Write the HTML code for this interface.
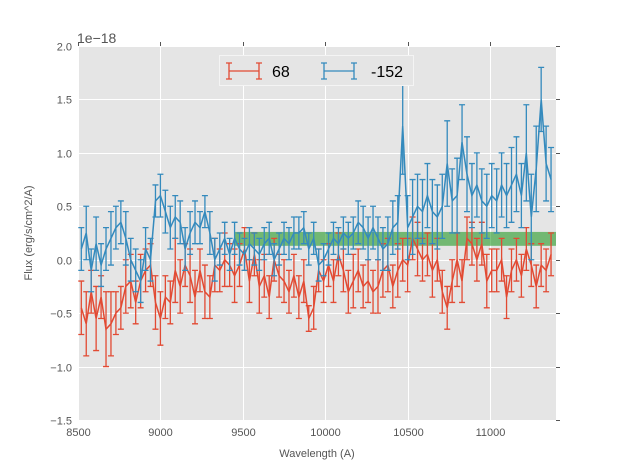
<!DOCTYPE html>
<html><head><meta charset="utf-8"><style>
body{margin:0;background:#fff;}
svg{display:block;font-family:"Liberation Sans","DejaVu Sans",sans-serif;}
</style></head><body>
<svg id="chart" width="617" height="467"></svg>
<script>
const xTicks=[8500,9000,9500,10000,10500,11000];
const yTicks=[-1.5,-1.0,-0.5,0.0,0.5,1.0,1.5,2.0];
const yTickLabels=["\u22121.5","\u22121.0","\u22120.5","0.0","0.5","1.0","1.5","2.0"];
const xStart=8520, xStep=30;
const red=[-0.45,-0.6,-0.3,-0.55,-0.35,-0.65,-0.6,-0.5,
-0.45,-0.25,-0.2,-0.4,-0.2,-0.1,-0.05,-0.4,
-0.55,-0.35,-0.4,-0.1,-0.25,-0.05,-0.15,-0.35,
-0.1,-0.3,-0.35,-0.05,-0.1,0.0,-0.05,-0.15,
-0.05,0.1,-0.2,0.05,-0.25,-0.15,-0.35,0.0,
-0.15,-0.2,-0.3,-0.15,-0.35,-0.2,-0.55,-0.45,
-0.1,-0.2,-0.05,-0.2,0.05,-0.1,-0.3,-0.2,
-0.1,-0.25,-0.2,-0.3,-0.25,-0.1,-0.05,-0.25,
-0.1,0.0,-0.05,0.2,0.1,0.0,0.05,-0.1,
0.0,-0.3,-0.45,-0.2,0.0,-0.2,0.2,0.15,
0.0,0.15,-0.2,-0.1,-0.1,0.0,-0.35,-0.1,
0.0,-0.15,0.1,-0.05,-0.25,-0.05,-0.1,0.05];
const redErr=[0.25,0.3,0.2,0.3,0.2,0.35,0.3,0.2,
0.2,0.25,0.25,0.2,0.25,0.2,0.2,0.25,
0.25,0.2,0.2,0.3,0.25,0.2,0.25,0.25,
0.2,0.25,0.2,0.25,0.2,0.25,0.2,0.25,
0.2,0.2,0.2,0.2,0.25,0.2,0.2,0.2,
0.2,0.2,0.2,0.2,0.2,0.2,0.12,0.2,
0.2,0.2,0.2,0.2,0.2,0.2,0.2,0.25,
0.2,0.2,0.2,0.2,0.25,0.25,0.25,0.2,
0.25,0.2,0.25,0.2,0.25,0.2,0.2,0.25,
0.2,0.2,0.2,0.2,0.25,0.2,0.2,0.2,
0.2,0.2,0.25,0.2,0.2,0.2,0.2,0.2,
0.2,0.2,0.2,0.2,0.2,0.2,0.2,0.2];
const blue=[0.1,0.25,-0.1,0.15,-0.05,0.1,0.2,0.3,
0.35,0.2,0.0,-0.1,-0.2,0.1,0.0,0.55,
0.6,0.45,0.3,0.4,0.35,0.1,0.25,0.35,
0.3,0.45,0.25,0.0,0.1,0.2,0.05,0.2,
0.1,0.05,0.15,0.1,0.05,0.15,0.2,0.0,
0.1,0.2,0.15,0.25,0.25,0.3,0.1,0.2,
-0.05,0.0,0.1,0.2,0.15,0.25,0.2,0.25,
0.35,0.3,0.2,0.3,0.2,0.1,0.15,0.3,
0.35,1.25,0.3,0.4,0.5,0.45,0.6,0.45,
0.4,0.5,0.9,0.55,0.6,1.1,0.8,0.6,
0.7,0.55,0.5,0.6,0.55,0.7,0.6,0.7,
0.8,0.6,1.0,0.4,0.85,1.5,0.9,0.75];
const blueErr=[0.2,0.25,0.2,0.25,0.2,0.2,0.25,0.2,
0.2,0.25,0.2,0.2,0.2,0.2,0.2,0.15,
0.2,0.2,0.2,0.2,0.2,0.2,0.2,0.2,
0.15,0.15,0.2,0.2,0.15,0.15,0.15,0.15,
0.15,0.15,0.15,0.15,0.15,0.15,0.15,0.15,
0.15,0.15,0.15,0.15,0.15,0.15,0.15,0.15,
0.15,0.15,0.15,0.15,0.15,0.15,0.15,0.15,
0.2,0.2,0.2,0.2,0.2,0.2,0.25,0.25,
0.25,0.45,0.3,0.35,0.3,0.3,0.3,0.3,
0.3,0.3,0.4,0.3,0.35,0.35,0.35,0.3,
0.3,0.3,0.3,0.3,0.3,0.3,0.3,0.35,
0.35,0.3,0.45,0.4,0.4,0.3,0.35,0.3];
const band=[9450,11400,0.13,0.26];

const NS="http://www.w3.org/2000/svg";
const svg=document.getElementById('chart');
const L=78,R=556,T=46,B=420,xmin=8500,xmax=11400,ymin=-1.5,ymax=2.0;
const sx=v=>L+(v-xmin)/(xmax-xmin)*(R-L);
const sy=v=>B-(v-ymin)/(ymax-ymin)*(B-T);
function mk(tag,attrs,parent){const e=document.createElementNS(NS,tag);for(const k in attrs)e.setAttribute(k,attrs[k]);(parent||svg).appendChild(e);return e;}

const bg=mk('rect',{x:L,y:T,width:R-L,height:B-T,fill:'#e5e5e5'});


const grid=mk('g',{stroke:'#fff','stroke-width':1});


const ticks=mk('g',{stroke:'#555','stroke-width':1});


xTicks.forEach(v=>{const x=Math.round(sx(v))+0.5;mk('line',{x1:x,x2:x,y1:T,y2:B},grid);
 mk('line',{x1:x,x2:x,y1:T,y2:T-4},ticks);
 const t=mk('text',{x:x,y:B+16,'text-anchor':'middle','font-size':11,fill:'#555'});t.textContent=v;
 
 });
yTicks.forEach((v,i)=>{const y=Math.round(sy(v))+0.5;mk('line',{x1:L,x2:R,y1:y,y2:y},grid);
 mk('line',{x1:R,x2:R+4,y1:y,y2:y},ticks);
 const t=mk('text',{x:L-6,y:y+4,'text-anchor':'end','font-size':11,fill:'#555'});t.textContent=yTickLabels[i];
 
 });

const bd=mk('rect',{x:sx(band[0]),y:sy(band[3]),width:sx(band[1])-sx(band[0]),height:sy(band[2])-sy(band[3]),fill:'rgba(0,140,0,0.5)'});



function series(vals,errs,color,name){
 const g=mk('g',{stroke:color,'stroke-width':1.3,fill:'none'});
 
 
 let d='';
 vals.forEach((v,i)=>{const x=sx(xStart+i*xStep);const y=sy(v);d+=(i?'L':'M')+x.toFixed(1)+' '+y.toFixed(1);
  const y1=sy(v+errs[i]),y2=sy(v-errs[i]);
  mk('path',{d:`M${x} ${y1}V${y2}M${x-3} ${y1}H${x+3}M${x-3} ${y2}H${x+3}`},g);});
 mk('path',{d:d,'stroke-width':1.5},g);
}
series(red,redErr,'#E24A33','series-68');
series(blue,blueErr,'#348ABD','series-minus-152');
</script>
<svg width="617" height="467" style="position:absolute;left:0;top:0">
<text x="77" y="43" font-size="14" fill="#555" font-family="Liberation Sans,sans-serif">1e−18</text>
<text x="317" y="457" font-size="11" fill="#555" text-anchor="middle" font-family="Liberation Sans,sans-serif">Wavelength (A)</text>
<text transform="translate(32,233) rotate(-90)" font-size="11" fill="#555" text-anchor="middle" font-family="Liberation Sans,sans-serif">Flux (erg/s/cm^2/A)</text>
<g>
<rect x="219.5" y="55.5" width="194" height="30" fill="#e5e5e5" stroke="#f4f4f4"/>
<g stroke="#E24A33" stroke-width="1.3"><path d="M229 71H259M229 63V79M259 63V79M226 63H232M226 79H232M256 63H262M256 79H262"/></g>
<text x="272" y="77" font-size="16" fill="#000" font-family="Liberation Sans,sans-serif">68</text>
<g stroke="#348ABD" stroke-width="1.3"><path d="M324 71H354M324 63V79M354 63V79M321 63H327M321 79H327M351 63H357M351 79H357"/></g>
<text x="371" y="77" font-size="16" fill="#000" font-family="Liberation Sans,sans-serif">-152</text>
</g>
</svg>
</body></html>
